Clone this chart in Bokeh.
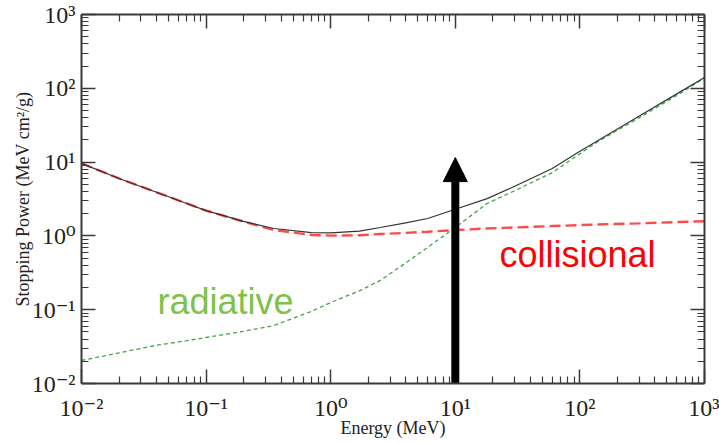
from bokeh.plotting import figure
from bokeh.models import LogAxis, FixedTicker, Arrow, NormalHead, Label
from bokeh.embed import file_html
from bokeh.resources import INLINE

# ---- data ----
energy = [0.01, 0.02, 0.04, 0.07, 0.1, 0.2, 0.35, 0.7, 1, 1.7, 2.5, 4, 6, 10,
          18, 30, 60, 100, 140, 300, 600, 1000]
total = [9.6, 6.0, 3.9, 2.75, 2.2, 1.57, 1.26, 1.11, 1.10, 1.16, 1.30, 1.50, 1.72, 2.3,
         3.2, 4.7, 8.2, 14.0, 19.6, 42, 84, 140]
collisional = [9.6, 6.0, 3.9, 2.75, 2.2, 1.56, 1.2, 1.03, 1.01, 1.02, 1.06, 1.10, 1.14, 1.2,
               1.26, 1.30, 1.36, 1.40, 1.43, 1.48, 1.54, 1.58]
radiative = [0.0205, 0.026, 0.033, 0.038, 0.042, 0.051, 0.061, 0.095, 0.125, 0.18, 0.25,
             0.43, 0.70, 1.3, 2.75, 4.1, 7.2, 13, 19, 40, 80, 138]

decades = [0.01, 0.1, 1, 10, 100, 1000]
decade_labels = ["10\u207b\u00b2", "10\u207b\u00b9", "10\u2070", "10\u00b9", "10\u00b2", "10\u00b3"]
arrow_energy = 10
arrow_top = 11.5

minor = [m * d for d in decades[:-1] for m in range(2, 10)]

p = figure(frame_width=623, frame_height=369, x_axis_type="log", y_axis_type="log",
           x_range=(0.01, 1000), y_range=(0.01, 1000),
           output_backend="svg", toolbar_location=None,
           min_border_left=81, min_border_right=15, min_border_top=14, min_border_bottom=60)
p.outline_line_color = None
p.xgrid.visible = False
p.ygrid.visible = False
p.background_fill_color = "white"
p.border_fill_color = "white"

serif = "Liberation Serif, DejaVu Serif, serif"
axcol = "#3a3a3a"


def style(ax, labels=True):
    ax.ticker = FixedTicker(ticks=decades, minor_ticks=minor)
    ax.axis_line_color = axcol
    ax.axis_line_width = 2
    ax.major_tick_line_color = axcol
    ax.major_tick_line_width = 1.5
    ax.minor_tick_line_color = axcol
    ax.minor_tick_line_width = 1.2
    ax.major_tick_in = 14
    ax.major_tick_out = 0
    ax.minor_tick_in = 7
    ax.minor_tick_out = 0
    if labels:
        ax.major_label_overrides = {d: l for d, l in zip(decades, decade_labels)}
        ax.major_label_text_font = serif
        ax.major_label_text_font_size = "24px"
        ax.major_label_text_color = "#222222"
        ax.axis_label_text_font = serif
        ax.axis_label_text_font_size = "18px"
        ax.axis_label_text_font_style = "normal"
        ax.axis_label_text_color = "#222222"
    else:
        ax.major_label_overrides = {d: "" for d in decades}
        ax.major_label_text_font_size = "0px"
        ax.major_label_standoff = 0
        ax.axis_label_standoff = 0


xa = p.xaxis[0]
ya = p.yaxis[0]
style(xa)
style(ya)
xa.major_label_standoff = 11
xa.axis_label = "Energy (MeV)"
xa.axis_label_standoff = -6
ya.major_label_standoff = 6
ya.axis_label = "Stopping Power (MeV cm\u00b2/g)"
ya.axis_label_standoff = -4

top_ax = LogAxis()
right_ax = LogAxis()
style(top_ax, labels=False)
style(right_ax, labels=False)
p.add_layout(top_ax, "above")
p.add_layout(right_ax, "right")

p.line(energy, radiative, line_color="#3fa64a", line_width=1.3, line_dash="4 3")
p.line(energy, collisional, line_color="#ff4a4a", line_width=2.4, line_dash="11 5")
p.line(energy, total, line_color="#333333", line_width=1.2)

p.add_layout(Arrow(end=NormalHead(size=24, fill_color="black", line_color="black"),
                   x_start=arrow_energy, y_start=0.0102, x_end=arrow_energy, y_end=arrow_top,
                   line_width=8, line_color="black"))

p.add_layout(Label(x=0.0407, y=0.129, text="radiative", text_font="Liberation Sans, Arial, sans-serif",
                   text_font_size="36px", text_color="#7dc34a", text_baseline="alphabetic"))
p.add_layout(Label(x=22.6, y=0.56, text="collisional", text_font="Liberation Sans, Arial, sans-serif",
                   text_font_size="36px", text_color="#ff0000", text_baseline="alphabetic"))

open("out.html", "w").write(file_html(p, INLINE))
